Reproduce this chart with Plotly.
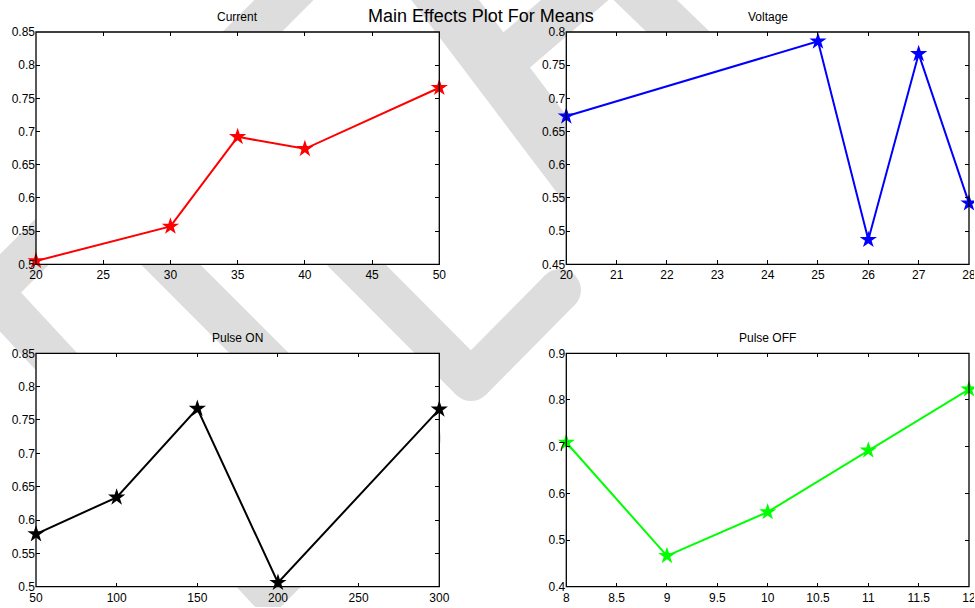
import math
import plotly.graph_objects as go

# ---- data: main effects (mean response at each factor level) ----
current_x = [20, 30, 35, 40, 50]
current_y = [0.505, 0.557, 0.692, 0.674, 0.766]

voltage_x = [20, 25, 26, 27, 28]
voltage_y = [0.673, 0.786, 0.487, 0.767, 0.542]

pulse_on_x = [50, 100, 150, 200, 300]
pulse_on_y = [0.579, 0.634, 0.767, 0.506, 0.766]

pulse_off_x = [8, 9, 10, 11, 12]
pulse_off_y = [0.709, 0.466, 0.560, 0.692, 0.823]

# ---- tick values / labels ----
current_xticks = [20, 25, 30, 35, 40, 45, 50]
current_yticks = [0.5, 0.55, 0.6, 0.65, 0.7, 0.75, 0.8, 0.85]
current_ylabels = ["0.5", "0.55", "0.6", "0.65", "0.7", "0.75", "0.8", "0.85"]

voltage_xticks = [20, 21, 22, 23, 24, 25, 26, 27, 28]
voltage_yticks = [0.45, 0.5, 0.55, 0.6, 0.65, 0.7, 0.75, 0.8]
voltage_ylabels = ["0.45", "0.5", "0.55", "0.6", "0.65", "0.7", "0.75", "0.8"]

pulse_on_xticks = [50, 100, 150, 200, 250, 300]
pulse_on_yticks = current_yticks
pulse_on_ylabels = current_ylabels

pulse_off_xticks = [8, 8.5, 9, 9.5, 10, 10.5, 11, 11.5, 12]
pulse_off_xlabels = ["8", "8.5", "9", "9.5", "10", "10.5", "11", "11.5", "12"]
pulse_off_yticks = [0.4, 0.5, 0.6, 0.7, 0.8, 0.9]
pulse_off_ylabels = ["0.4", "0.5", "0.6", "0.7", "0.8", "0.9"]

W, H = 974, 607
FONT = "Liberation Sans, Arial, Helvetica, sans-serif"


def fx(px):
    """pixel x -> paper fraction"""
    return px / W


def fy(py):
    """pixel y -> paper fraction"""
    return 1 - py / H


# panel boxes in pixels: (left, top, right, bottom)
panels = [
    dict(box=(36, 32, 439.3, 264.3), x=current_x, y=current_y, color="#ff0000",
         xt=current_xticks, xl=[str(v) for v in current_xticks],
         yt=current_yticks, yl=current_ylabels, xr=[20, 50], yr=[0.5, 0.85], title="Current"),
    dict(box=(566.3, 32, 969, 264.3), x=voltage_x, y=voltage_y, color="#0000ff",
         xt=voltage_xticks, xl=[str(v) for v in voltage_xticks],
         yt=voltage_yticks, yl=voltage_ylabels, xr=[20, 28], yr=[0.45, 0.8], title="Voltage"),
    dict(box=(36, 353.3, 439.3, 586.7), x=pulse_on_x, y=pulse_on_y, color="#000000",
         xt=pulse_on_xticks, xl=[str(v) for v in pulse_on_xticks],
         yt=pulse_on_yticks, yl=pulse_on_ylabels, xr=[50, 300], yr=[0.5, 0.85], title="Pulse ON"),
    dict(box=(566.3, 353.3, 969, 586.7), x=pulse_off_x, y=pulse_off_y, color="#00ff00",
         xt=pulse_off_xticks, xl=pulse_off_xlabels,
         yt=pulse_off_yticks, yl=pulse_off_ylabels, xr=[8, 12], yr=[0.4, 0.9], title="Pulse OFF"),
]

fig = go.Figure()
layout = dict(
    width=W, height=H,
    margin=dict(l=0, r=0, t=0, b=0, autoexpand=False),
    paper_bgcolor="white", plot_bgcolor="rgba(0,0,0,0)",
    showlegend=False,
    font=dict(family=FONT, size=12, color="black"),
)

# ---- light grey diagonal background bands: (polyline in px, width in px) ----
GREY = "#dddddd"
bands = [
    ([(296, -12), (-8, 292), (268, 590), (420, 438)], 42),
    ([(150, 244), (395, 489)], 42),
    ([(200, 108), (471, 380), (560, 290)], 42),
    ([(430, -20), (585, 185)], 54),
    ([(505, 60), (612, -32)], 44),
    ([(612, -32), (780, 130)], 44),
]
shapes = []
for pts, bw in bands:
    rad = bw / 2
    for (x0, y0), (x1, y1) in zip(pts[:-1], pts[1:]):
        L = math.hypot(x1 - x0, y1 - y0)
        nx, ny = -(y1 - y0) / L * rad, (x1 - x0) / L * rad
        corners = [(x0 + nx, y0 + ny), (x1 + nx, y1 + ny), (x1 - nx, y1 - ny), (x0 - nx, y0 - ny)]
        path = "M " + " L ".join(f"{fx(a):.5f},{fy(c):.5f}" for a, c in corners) + " Z"
        shapes.append(dict(type="path", path=path, xref="paper", yref="paper",
                           fillcolor=GREY, line=dict(width=0), layer="below"))
    for (x, y) in pts:
        shapes.append(dict(type="circle", xref="paper", yref="paper",
                           x0=fx(x - rad), x1=fx(x + rad), y0=fy(y + rad), y1=fy(y - rad),
                           fillcolor=GREY, line=dict(width=0), layer="below"))

annotations = []
for i, p in enumerate(panels, start=1):
    l, t, r, b = p["box"]
    sfx = "" if i == 1 else str(i)
    fig.add_trace(go.Scatter(
        x=p["x"], y=p["y"], mode="lines+markers",
        line=dict(color=p["color"], width=2),
        marker=dict(symbol="star", size=13, color=p["color"]),
        cliponaxis=False,
        xaxis="x" + sfx, yaxis="y" + sfx,
    ))
    common = dict(showline=False, ticks="inside", ticklen=4, tickwidth=1, tickcolor="black",
                  mirror="allticks", showgrid=False, zeroline=False, fixedrange=True,
                  ticklabeloverflow="allow",
                  tickfont=dict(family=FONT, size=12, color="black"))
    layout["xaxis" + sfx] = dict(common, domain=[fx(l), min(fx(r), 1)], range=p["xr"],
                                 tickmode="array", tickvals=p["xt"], ticktext=p["xl"],
                                 ticklabelstandoff=2, anchor="y" + sfx)
    layout["yaxis" + sfx] = dict(common, domain=[max(fy(b), 0), fy(t)], range=p["yr"],
                                 tickmode="array", tickvals=p["yt"], ticktext=p["yl"],
                                 anchor="x" + sfx)
    # white panel face over the background bands
    shapes.append(dict(type="rect", xref="paper", yref="paper",
                       x0=fx(l), x1=fx(r), y0=fy(b), y1=fy(t),
                       fillcolor="white", line=dict(width=0), layer="below"))
    # panel frame
    shapes.append(dict(type="rect", xref="paper", yref="paper",
                       x0=fx(l), x1=fx(r), y0=fy(b), y1=fy(t), fillcolor="rgba(0,0,0,0)",
                       line=dict(color="black", width=1.3), layer="above"))
    annotations.append(dict(text=p["title"], x=fx((l + r) / 2), y=fy(t - 15),
                            xref="paper", yref="paper", showarrow=False,
                            xanchor="center", yanchor="middle",
                            font=dict(family=FONT, size=12, color="black")))

annotations.append(dict(text="Main Effects Plot For Means", x=fx(481), y=fy(16),
                        xref="paper", yref="paper", showarrow=False,
                        xanchor="center", yanchor="middle",
                        font=dict(family=FONT, size=18, color="black")))

layout["annotations"] = annotations
layout["shapes"] = shapes
fig.update_layout(**layout)
fig.write_html("out.html")
